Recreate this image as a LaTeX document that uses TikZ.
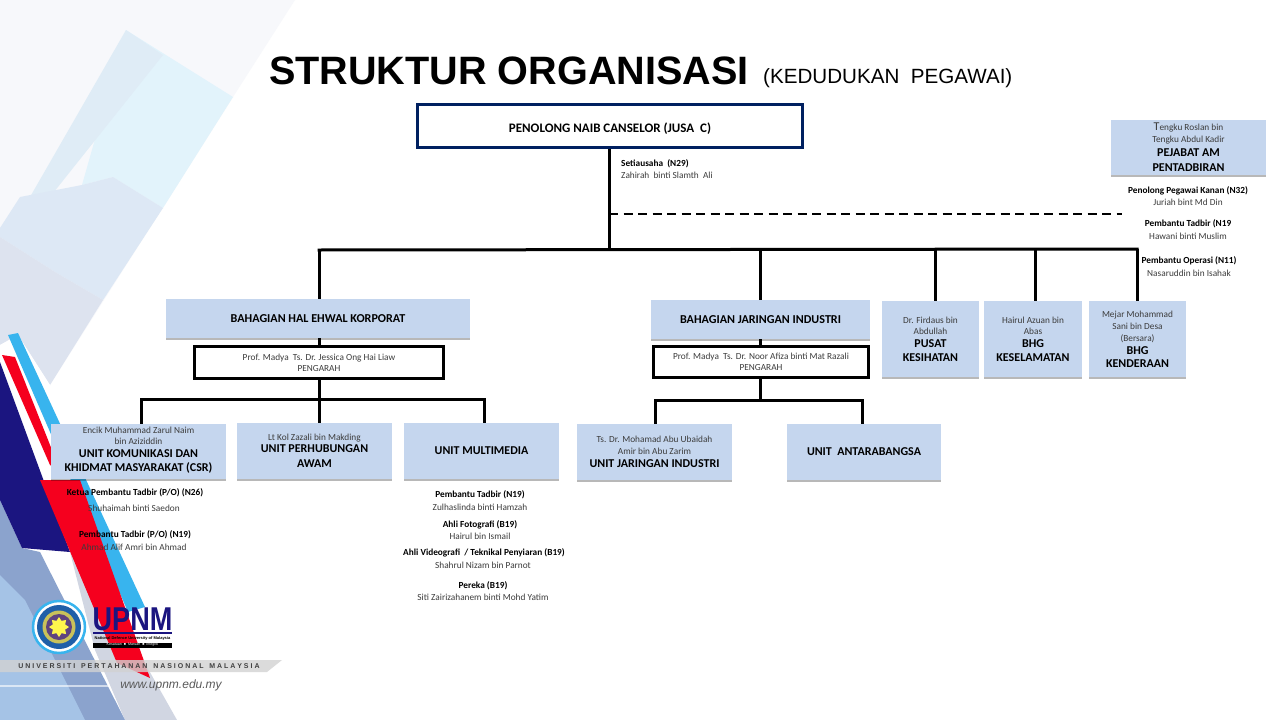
\documentclass[tikz,border=0pt]{standalone}
\usepackage{fontspec}
\setmainfont{Carlito}
\newfontfamily\arialf{Liberation Sans}
\usetikzlibrary{shadows,calc,shapes.geometric}
\definecolor{boxblue}{HTML}{C5D6EE}
\definecolor{navyb}{HTML}{002060}
\definecolor{deep}{HTML}{1B1580}
\definecolor{upred}{HTML}{F5001E}
\definecolor{upcyan}{HTML}{38B4EE}
\definecolor{txt}{HTML}{3C3C3C}
\definecolor{sealblue}{HTML}{1F5FA8}
\definecolor{sealgold}{HTML}{C9C25A}
\newcommand{\smalltx}{\fontsize{9.3}{11}\selectfont\color{txt}}
\newcommand{\boldtx}{\fontsize{9.3}{11}\selectfont\bfseries\color{black}}
\newcommand{\headtx}{\fontsize{12}{14}\selectfont\bfseries\color{black}}
\newcommand{\divtx}{\fontsize{12.1}{14}\selectfont\bfseries}
\tikzset{
 x=1pt,y=-1pt,
 bluebox/.style={fill=boxblue,inner sep=0pt,align=center,drop shadow={shadow xshift=0pt,shadow yshift=-2pt,fill=black,opacity=.28}},
 whitebox/.style={fill=white,draw=black,line width=3pt,inner sep=0pt,align=center},
 conn/.style={draw=black,line width=3pt},
 lab/.style={inner sep=0pt,align=center},
 stackA/.style={font=\fontsize{9.3}{11}\selectfont},
 stackB/.style={font=\fontsize{9.3}{12}\selectfont},
}
\begin{document}
\begin{tikzpicture}
\useasboundingbox (0,0) rectangle (1280,720);
\fill[white] (0,0) rectangle (1280,720);
% background
\fill[color={rgb,255:red,247;green,248;blue,251}] (0,0) -- (295,0) -- (233,97) -- (50,385) -- (0,385) -- cycle;
\fill[color={rgb,255:red,226;green,243;blue,251}] (126,30) -- (233,97) -- (163,208) -- (113,177) -- (82,185) -- cycle;
\fill[color={rgb,255:red,223;green,236;blue,246}] (126,30) -- (163,55) -- (42,207) -- (30,197) -- cycle;
\fill[color={rgb,255:red,221;green,232;blue,245}] (0,228) -- (20,197) -- (82,185) -- (113,177) -- (163,208) -- (103,300) -- (55,272) -- (0,237) -- cycle;
\fill[color={rgb,255:red,221;green,227;blue,239}] (0,237) -- (55,272) -- (103,300) -- (50,385) -- (18,335) -- (0,345) -- cycle;
\fill[white] (0,345) -- (18,335) -- (50,385) -- (50,400) -- (0,400) -- cycle;
\fill[color={rgb,255:red,209;green,214;blue,226}] (70,552) -- (82,552) -- (177,720) -- (125,720) -- (95,650) -- cycle;
\fill[color={rgb,255:red,139;green,163;blue,205}] (0,500) -- (22,548) -- (40,552) -- (125,720) -- (0,720) -- cycle;
\fill[color={rgb,255:red,165;green,195;blue,230}] (0,575) -- (25,600) -- (85,720) -- (0,720) -- cycle;
\fill[upcyan] (8,335) -- (18,333) -- (145,607) -- (128,612) -- cycle;
\fill[deep] (0,362) -- (70,552) -- (22,548) -- (0,500) -- cycle;
\fill[upred] (2,355) -- (15,357) -- (60,470) -- (50,465) -- cycle;
\fill[upred] (40,480) -- (80,480) -- (150,678) -- (117,663) -- cycle;
% banner
\fill[color={rgb,255:red,210;green,210;blue,210},opacity=.8] (0,660) -- (282,660) -- (267,672) -- (0,672) -- cycle;
\fill[white,opacity=.6] (0,685) rectangle (110,687);
\node[lab,font=\fontsize{7}{8}\selectfont\arialf\bfseries,text=black!75] (uni) at (139,666) {U N I V E R S I T I \ \ P E R T A H A N A N \ \ N A S I O N A L \ \ M A L A Y S I A};
\node[lab,font=\fontsize{12}{13}\selectfont\arialf\itshape,text=black!65] (web) at (171,685) {www.upnm.edu.my};
% logo
\node[circle,fill=white,draw=upcyan,line width=2.5pt,minimum size=52pt,inner sep=0pt] (seal) at (59,627) {};
\node[circle,fill=sealblue,minimum size=44pt,inner sep=0pt] (seal2) at (59,627) {};
\node[circle,fill=sealgold,minimum size=33pt,inner sep=0pt] (seal3) at (59,627) {};
\node[circle,fill=sealblue!70!upred,minimum size=26pt,inner sep=0pt] (seal4) at (59,627) {};
\node[star,star points=8,fill=yellow!70!white,minimum size=20pt,inner sep=0pt] (seal5) at (59,627) {};
\node[lab,font=\fontsize{33}{34}\selectfont\arialf\bfseries,text=deep] (upnm) at (132.5,619.5) {\scalebox{0.82}[1]{UPNM}};
\fill[deep] (93,632) rectangle (172,634);
\node[lab,font=\fontsize{4}{4}\selectfont\arialf\bfseries,text=black] (ndu) at (132.5,638) {National Defence University of Malaysia};
\node[lab,fill=black,minimum width=79pt,minimum height=5pt,font=\fontsize{3.6}{4}\selectfont\arialf,text=white] (motto) at (132.5,645) {Kesatuan \ ■ \ Maruah \ ■ \ Integriti};
% title
\node[lab,anchor=west,font=\fontsize{39.6}{44}\selectfont\arialf\bfseries] (title) at (269,71) {STRUKTUR ORGANISASI};
\node[lab,anchor=west,font=\fontsize{20.6}{22}\selectfont\arialf] (subtitle) at (763,78) {(KEDUDUKAN\ \ PEGAWAI)};
% nodes
\node[fill=white,draw=navyb,line width=3pt,minimum width=385pt,minimum height=43pt,inner sep=0pt,font=\fontsize{13}{14}\selectfont\bfseries] (top) at (610,126) {\smash{\raisebox{-6pt}{PENOLONG NAIB CANSELOR (JUSA\ \ C)}}};
\node[bluebox,stackB,minimum width=155pt,minimum height=55pt,text depth=0pt] (pejabat) at (1188.5,147.5) {\smalltx {\fontsize{12}{12}\selectfont T}engku Roslan bin\\\smalltx Tengku Abdul Kadir\\[2pt]\headtx PEJABAT AM\\[3pt]\headtx PENTADBIRAN};
\node[bluebox,minimum width=304pt,minimum height=39pt,font=\divtx] (bhg1) at (318,318.5) {BAHAGIAN HAL EHWAL KORPORAT};
\node[whitebox,stackA,minimum width=249pt,minimum height=32pt] (peng1) at (319,362.5) {\smalltx Prof. Madya\ \ Ts. Dr. Jessica Ong Hai Liaw\\\smalltx PENGARAH};
\node[bluebox,minimum width=219pt,minimum height=39pt,font=\divtx] (bhg2) at (760.5,319.5) {BAHAGIAN JARINGAN INDUSTRI};
\node[whitebox,stackA,minimum width=215pt,minimum height=31pt] (peng2) at (761,362) {\smalltx Prof. Madya\ \ Ts. Dr. Noor Afiza binti Mat Razali\\\smalltx PENGARAH};
\node[bluebox,stackA,minimum width=97pt,minimum height=76pt] (pusat) at (930.5,339) {\smalltx Dr. Firdaus bin\\\smalltx Abdullah\\[2pt]\headtx PUSAT\\[3pt]\headtx KESIHATAN};
\node[bluebox,stackA,minimum width=98pt,minimum height=76pt] (kesel) at (1033,339) {\smalltx Hairul Azuan bin\\\smalltx Abas\\[2pt]\headtx BHG\\[3pt]\headtx KESELAMATAN};
\node[bluebox,stackB,minimum width=97pt,minimum height=76pt] (kend) at (1137.5,339) {\smalltx Mejar Mohammad\\\smalltx Sani bin Desa\\\smalltx (Bersara)\\[1pt]\headtx BHG\\[1pt]\headtx KENDERAAN};
\node[bluebox,stackA,minimum width=175pt,minimum height=55pt,text depth=4pt] (kom) at (138.5,451.5) {\smalltx Encik Muhammad Zarul Naim\\\smalltx bin Aziziddin\\[2pt]\headtx UNIT KOMUNIKASI DAN\\[3pt]\headtx KHIDMAT MASYARAKAT (CSR)};
\node[bluebox,stackB,minimum width=155pt,minimum height=56pt] (hub) at (314.5,451) {\smalltx Lt Kol Zazali bin Makding\\\headtx UNIT PERHUBUNGAN\\[3pt]\headtx AWAM};
\node[bluebox,minimum width=155pt,minimum height=56pt,font=\headtx] (multi) at (481.5,451) {UNIT MULTIMEDIA};
\node[bluebox,stackB,minimum width=155pt,minimum height=56pt] (jar) at (654.5,452) {\smalltx Ts. Dr. Mohamad Abu Ubaidah\\\smalltx Amir bin Abu Zarim\\[1pt]\headtx UNIT JARINGAN INDUSTRI};
\node[bluebox,minimum width=154pt,minimum height=56pt,font=\headtx] (antara) at (864,452) {UNIT\ \ ANTARABANGSA};
% connector junctions
\coordinate (j1) at (609,249);
\coordinate (ja) at (319,250);
\coordinate (jm) at (760,249);
\coordinate (jp) at (935,249);
\coordinate (jk) at (1035,249);
\coordinate (jb) at (1137,249);
\coordinate (d0) at (609,214);
\coordinate (d1) at (1122,214);
\coordinate (k1) at (319,399);
\coordinate (k1l) at (141,399);
\coordinate (k1r) at (484,399);
\coordinate (k2) at (760,400);
\coordinate (k2l) at (655,400);
\coordinate (k2r) at (862,400);
% connectors
\draw[conn] (top.south -| j1) -- (j1);
\draw[conn,line cap=rect] (ja) -- (jb);
\draw[conn] (ja) -- (ja |- bhg1.north);
\draw[conn] (jm) -- (jm |- bhg2.north);
\draw[conn] (jp) -- (jp |- pusat.north);
\draw[conn] (jk) -- (jk |- kesel.north);
\draw[conn] (jb) -- (jb |- kend.north);
\draw[line width=2pt,dash pattern=on 9pt off 5.5pt] (d0) -- (d1);
\draw[conn] (bhg1.south -| k1) -- (peng1.north -| k1);
\draw[conn] (bhg2.south -| k2) -- (peng2.north -| k2);
\draw[conn] (peng1.south -| k1) -- (k1);
\draw[conn] (peng2.south -| k2) -- (k2);
\draw[conn,line cap=rect] (k1l) -- (k1r);
\draw[conn,line cap=rect] (k2l) -- (k2r);
\draw[conn] (k1l) -- (k1l |- kom.north);
\draw[conn] (k1) -- (k1 |- hub.north);
\draw[conn] (k1r) -- (k1r |- multi.north);
\draw[conn] (k2l) -- (k2l |- jar.north);
\draw[conn] (k2r) -- (k2r |- antara.north);
% labels
\node[lab,anchor=west] (s1) at (621,163.5) {\boldtx Setiausaha\ \ (N29)};
\node[lab,anchor=west] (s2) at (621,175) {\smalltx Zahirah\ \ binti Slamth\ \ Ali};
\node[lab] (p1) at (1188,190.5) {\boldtx Penolong Pegawai Kanan (N32)};
\node[lab] (p2) at (1188,202) {\smalltx Juriah bint Md Din};
\node[lab] (p3) at (1188,224) {\boldtx Pembantu Tadbir (N19};
\node[lab] (p4) at (1188,236) {\smalltx Hawani binti Muslim};
\node[lab] (p5) at (1189,261) {\boldtx Pembantu Operasi (N11)};
\node[lab] (p6) at (1189,273) {\smalltx Nasaruddin bin Isahak};
\node[lab] (k1a) at (135,493) {\boldtx Ketua Pembantu Tadbir (P/O) (N26)};
\node[lab] (k1b) at (134,508) {\smalltx Shuhaimah binti Saedon};
\node[lab] (k2a) at (135,535) {\boldtx Pembantu Tadbir (P/O) (N19)};
\node[lab] (k2b) at (134,547) {\smalltx Ahmad Alif Amri bin Ahmad};
\node[lab] (m1) at (480,495) {\boldtx Pembantu Tadbir (N19)};
\node[lab] (m2) at (480,507) {\smalltx Zulhaslinda binti Hamzah};
\node[lab] (m3) at (480,525) {\boldtx Ahli Fotografi (B19)};
\node[lab] (m4) at (480,536) {\smalltx Hairul bin Ismail};
\node[lab] (m5) at (484,553) {\boldtx Ahli Videografi\ \ / Teknikal Penyiaran (B19)};
\node[lab] (m6) at (483,565) {\smalltx Shahrul Nizam bin Parnot};
\node[lab] (m7) at (483,586) {\boldtx Pereka (B19)};
\node[lab] (m8) at (483,597) {\smalltx Siti Zairizahanem binti Mohd Yatim};
\end{tikzpicture}
\end{document}
